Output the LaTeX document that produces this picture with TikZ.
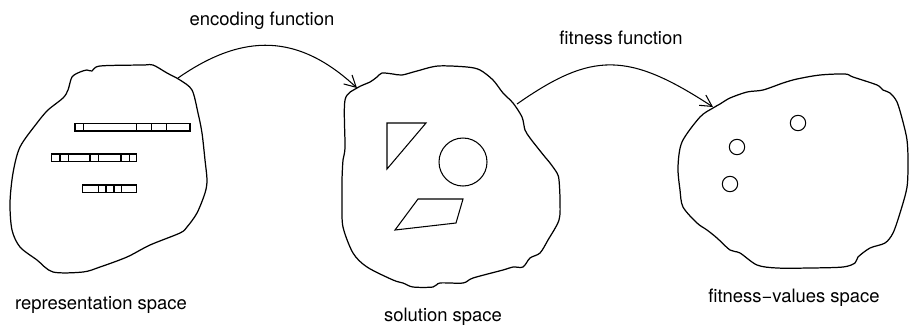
\documentclass[tikz,border=0pt]{standalone}
\usepackage{fontspec}
\setmainfont{TeX Gyre Heros}
\usepackage{tikz}
\usetikzlibrary{arrows.meta}

\begin{document}
\begin{tikzpicture}[
  x=0.02cm, y=-0.02cm,
  blob/.style={draw=black,line width=0.7pt,line join=round},
  shp/.style={draw=black,line width=0.6pt},
  lbl/.style={font=\fontsize{10.5}{12.6}\selectfont,anchor=base,inner sep=0pt},
  arr/.style={-{Straight Barb[length=6.5pt,width=7pt]},line width=0.6pt}
]
  \useasboundingbox (0,0) rectangle (909,326);

  % representation space
  \draw[blob] plot[smooth cycle,tension=0.5] coordinates {
    (100,66) (143,65) (153,65) (167,73) (180,80) (192,90) (198,113) (202,133)
    (205,160) (207,180) (205,193) (197,213) (187,227) (180,233) (150,245)
    (127,257) (100,267) (83,272) (53,272) (37,260) (20,247) (12,230) (10,203)
    (13,173) (20,147) (37,123) (48,110) (63,98) (68,90) (72,77) (80,72)
    (87,70) (92,71)};
  \draw[shp] (75,123.3) rectangle (190,131);
  \foreach \xa in {83.3,136.7,151.7,166.7} \draw[shp] (\xa,123.3) -- (\xa,131);
  \draw[shp] (51.7,154) rectangle (136.7,161.7);
  \foreach \xa in {60,68.3,90,98.3,121,129.3} \draw[shp] (\xa,154) -- (\xa,161.7);
  \draw[shp] (82.7,185) rectangle (136.7,192.3);
  \foreach \xa in {98.3,106,114,121.7} \draw[shp] (\xa,185) -- (\xa,192.3);

  % solution space
  \draw[blob] plot[smooth cycle,tension=0.5] coordinates {
    (357,88) (370,82) (377,77) (382,73) (393,74) (402,75) (417,71) (438,66)
    (467,67) (480,70) (493,80) (503,93) (513,103) (522,117) (525,130)
    (530,138) (537,147) (545,157) (550,163) (557,173) (559,180) (560,200)
    (559,220) (548,240) (540,253) (530,258) (523,267) (513,267) (503,270)
    (473,278) (463,283) (440,283) (433,287) (413,287) (403,283) (393,280)
    (367,267) (353,253) (343,227) (342,203) (342,180) (343,160) (345,147)
    (345,100)};
  \draw[shp] (387,123) -- (426,123) -- (387,169) -- cycle;
  \draw[shp] (463,162) circle[radius=24];
  \draw[shp] (418,199) -- (463,199) -- (456,223) -- (395,230) -- cycle;

  % fitness-values space
  \draw[blob] plot[smooth cycle,tension=0.5] coordinates {
    (713,108) (720,104) (730,98) (747,92) (763,90) (783,83) (797,79) (820,75)
    (845,74) (853,77) (877,85) (883,90) (890,93) (897,102) (903,122)
    (907,140) (908,160) (907,187) (900,213) (893,233) (885,243) (870,248)
    (858,257) (855,263) (843,267) (810,268) (777,268) (757,265) (740,253)
    (730,250) (717,238) (707,230) (697,223) (683,207) (680,190) (678,167)
    (682,142) (700,117)};
  \draw[shp] (798,123) circle[radius=7.7];
  \draw[shp] (737,147) circle[radius=7.7];
  \draw[shp] (730,184) circle[radius=7.7];

  % connectors
  \coordinate (repout) at (178,78);
  \coordinate (solin) at (357,88);
  \coordinate (solout) at (517,104);
  \coordinate (fitin) at (713,107);
  \draw[arr] (repout) .. controls (244,32) and (299,34) .. (solin);
  \draw[arr] (solout) .. controls (592,51.5) and (628,51.5) .. (fitin);

  % labels
  \node[lbl] (enc) at (262,25) {encoding function};
  \node[lbl] (fitf) at (621,44) {fitness function};
  \node[lbl] (rep) at (101,309) {representation space};
  \node[lbl] (sol) at (443,321.7) {solution space};
  \node[lbl] (fit) at (794,302.7) {fitness−values space};
\end{tikzpicture}
\end{document}
